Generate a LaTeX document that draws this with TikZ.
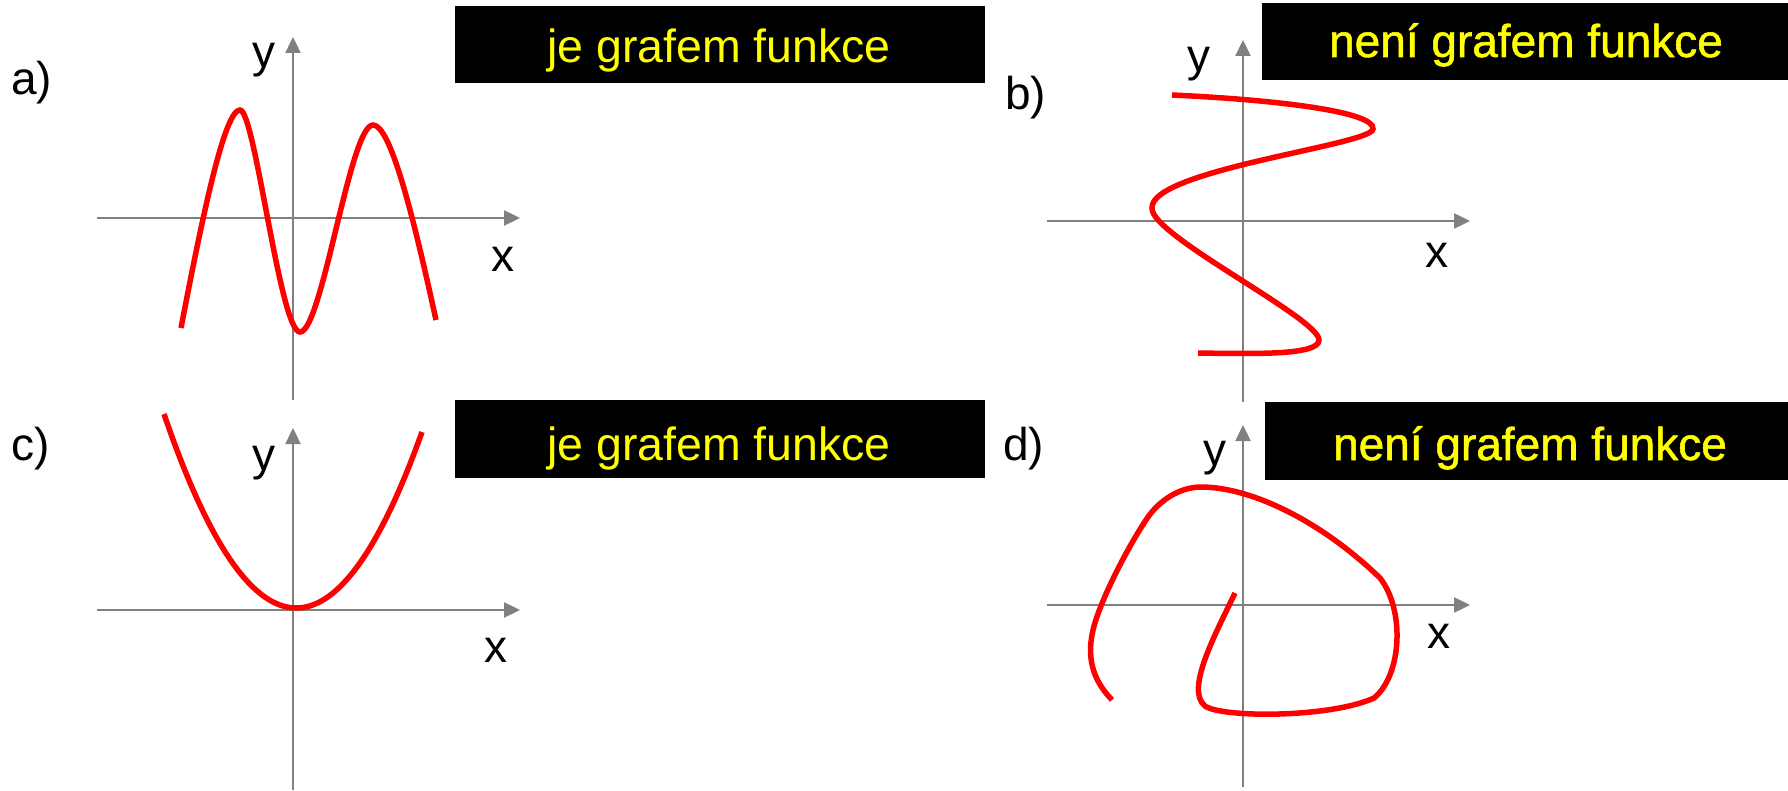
\documentclass[tikz,border=0pt]{standalone}
\usepackage{fontspec}
\setmainfont{Liberation Sans}
\newfontfamily\tagfont{Liberation Sans}[FakeBold=1.2]
\usetikzlibrary{arrows.meta}
\definecolor{axisgray}{RGB}{128,128,128}
\definecolor{curvered}{RGB}{255,0,0}
\definecolor{tagyellow}{RGB}{255,255,0}
\begin{document}
\begin{tikzpicture}[x=1pt,y=-1pt,
  axis/.style={draw=axisgray, line width=2.4pt, -{Triangle[length=16pt,width=15pt]}},
  curve/.style={draw=curvered, line width=5.5pt},
  lbl/.style={anchor=base west, inner sep=0pt, font=\fontsize{46}{50}\selectfont},
  tagbox/.style={fill=black},
  tagtext/.style={anchor=base, inner sep=0pt, text=tagyellow, font=\fontsize{46.5}{50}\selectfont},
  tagtextb/.style={tagtext, font=\fontsize{46}{50}\selectfont\tagfont}]
\useasboundingbox (0,0) rectangle (1788,791);
\fill[white] (0,0) rectangle (1788,791);

% verdict boxes
\fill[tagbox] (455,6) rectangle (985,83);
\node[tagtext] (ta) at (719,63) {je grafem funkce};
\fill[tagbox] (1262,3) rectangle (1788,80);
\node[tagtextb] (tb) at (1526,57) {není grafem funkce};
\fill[tagbox] (455,400) rectangle (985,478);
\node[tagtext] (tc) at (719,460) {je grafem funkce};
\fill[tagbox] (1265,402) rectangle (1788,480);
\node[tagtextb] (td) at (1530,460) {není grafem funkce};

% axes
\draw[axis] (97,218) -- (520,218);
\draw[axis] (293,400) -- (293,37);
\draw[axis] (1047,221) -- (1470,221);
\draw[axis] (1243,402) -- (1243,40);
\draw[axis] (97,610) -- (520,610);
\draw[axis] (293,790) -- (293,428);
\draw[axis] (1047,605) -- (1470,605);
\draw[axis] (1243,787) -- (1243,425);

% panel labels
\node[lbl] (la) at (11,95) {a)};
\node[lbl] (lb) at (1005,110) {b)};
\node[lbl] (lc) at (11,460) {c)};
\node[lbl] (ld) at (1003,460) {d)};

% axis names
\node[lbl] (ya) at (252,68) {y};
\node[lbl] (xa) at (491,272) {x};
\node[lbl] (yb) at (1187,72) {y};
\node[lbl] (xb) at (1425,268) {x};
\node[lbl] (yc) at (252,470) {y};
\node[lbl] (xc) at (484,662) {x};
\node[lbl] (yd) at (1203,465) {y};
\node[lbl] (xd) at (1427,648) {x};

% a) two humps
\draw[curve] (181,328) .. controls (204,208) and (225,110) .. (240,110)
  .. controls (255,110) and (280,332) .. (300,332)
  .. controls (322,332) and (350,125) .. (373,125)
  .. controls (390,125) and (412,210) .. (436,320);

% b) sideways S
\draw[curve] (1172,95) .. controls (1280,100) and (1375,112) .. (1373,129)
  .. controls (1372,145) and (1150,170) .. (1152,208)
  .. controls (1150,235) and (1319,318) .. (1319,340)
  .. controls (1319,355) and (1260,354) .. (1198,353);

% c) parabola
\draw[curve] (164,414) .. controls (250,666) and (336,673) .. (422,432);

% d) loop
\draw[curve] (1235,593) .. controls (1215,635) and (1185,690) .. (1205,706)
  .. controls (1222,718) and (1330,718) .. (1374,698)
  .. controls (1402,675) and (1405,610) .. (1380,578)
  .. controls (1320,520) and (1250,487) .. (1201,487)
  .. controls (1180,487) and (1160,500) .. (1148,517)
  .. controls (1130,543) and (1100,600) .. (1093,630)
  .. controls (1085,665) and (1098,685) .. (1112,700);
\end{tikzpicture}
\end{document}
